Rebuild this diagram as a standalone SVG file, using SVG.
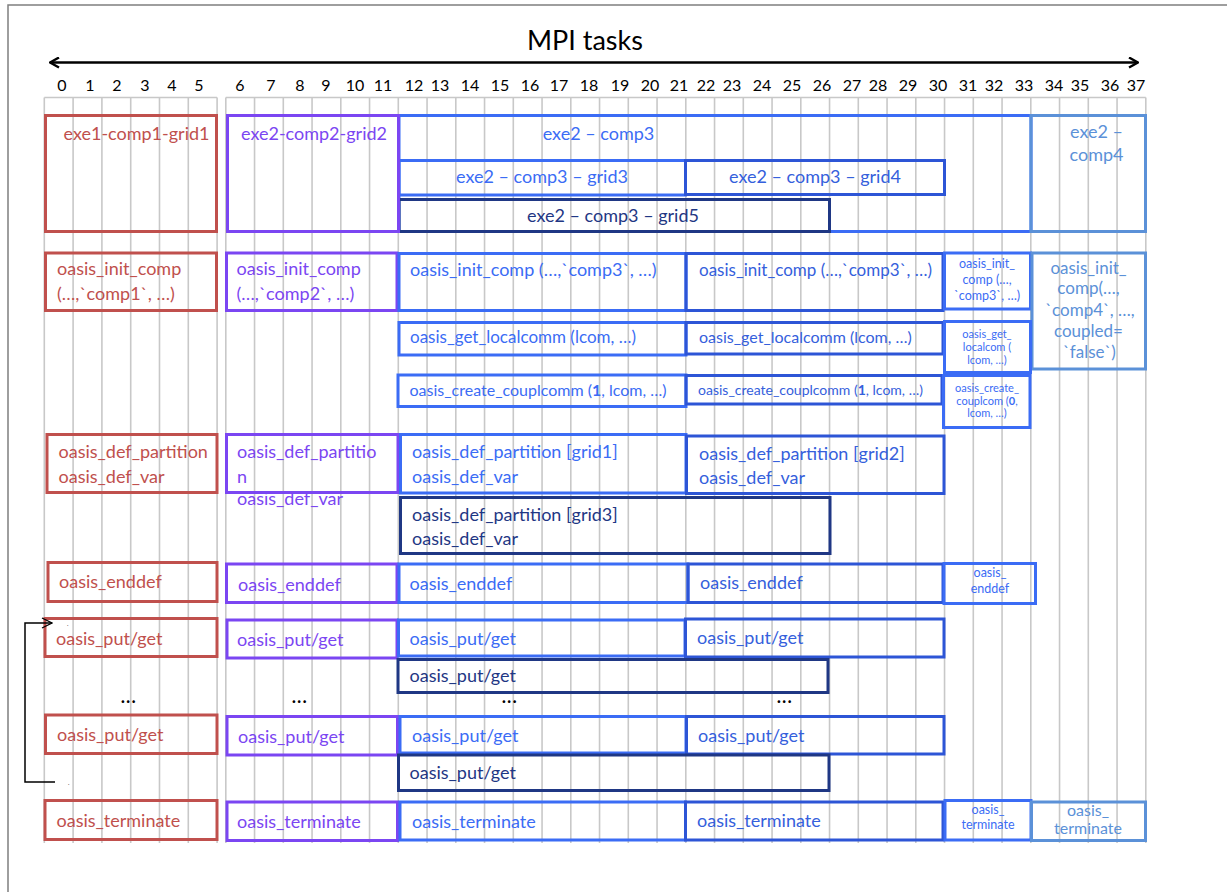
<svg xmlns="http://www.w3.org/2000/svg" width="1227" height="892" viewBox="0 0 1227 892">
<style>
text{font-family:Lato,"Liberation Sans",sans-serif;}
.b{fill:none;stroke-width:3;}
.red{stroke:#C0504D}.pur{stroke:#7B46F2}.blu{stroke:#3B6CF5}.dbl{stroke:#2D55D6}.nav{stroke:#1F3784}.lbl{stroke:#5B91D8}
.tred{fill:#C0504D}.tpur{fill:#7B46F2}.tblu{fill:#3B6CF5}.tdbl{fill:#3560DC}.tnav{fill:#1F3784}.tlbl{fill:#5B91D8}
.m{font-size:18px}.s17{font-size:17px}.s16{font-size:16px}.s15{font-size:15px}.s14{font-size:14px}.s13{font-size:12.5px}.s11{font-size:11px}
.c{text-anchor:middle}
.grid line{stroke:#C8C8C8;stroke-width:1.6}
.num{font-size:16px;fill:#000;text-anchor:middle}
.dots{font-size:16px;font-weight:900;letter-spacing:1.5px;fill:#000;text-anchor:middle}
</style>
<defs>
<marker id="ah" viewBox="0 0 12 12" refX="11" refY="6" markerWidth="12" markerHeight="12" markerUnits="userSpaceOnUse" orient="auto-start-reverse">
<polyline points="2,1 11,6 2,11" fill="none" stroke="#000" stroke-width="2.4"/>
</marker>
<marker id="ah2" viewBox="0 0 12 12" refX="11" refY="6" markerWidth="12" markerHeight="12" markerUnits="userSpaceOnUse" orient="auto">
<polyline points="1,1 11,6 1,11" fill="none" stroke="#000" stroke-width="1.3"/>
</marker>
</defs>
<rect x="8" y="5" width="1240" height="900" fill="#fff" stroke="#7F7F7F" stroke-width="1.5"/>

<g id="axis">
<text x="585" y="50" font-size="27" fill="#000" text-anchor="middle">MPI tasks</text>
<line x1="50" y1="62.5" x2="1138" y2="62.5" stroke="#000" stroke-width="2.5" marker-start="url(#ah)" marker-end="url(#ah)"/>
<g class="num">
<text x="62" y="91">0</text><text x="90" y="91">1</text><text x="117" y="91">2</text><text x="145" y="91">3</text><text x="172" y="91">4</text><text x="199" y="91">5</text>
<text x="240" y="91">6</text><text x="271" y="91">7</text><text x="300" y="91">8</text><text x="326" y="91">9</text><text x="355" y="91">10</text><text x="383" y="91">11</text>
<text x="414" y="91">12</text><text x="440" y="91">13</text><text x="470" y="91">14</text><text x="500" y="91">15</text><text x="530" y="91">16</text><text x="559" y="91">17</text>
<text x="589" y="91">18</text><text x="620" y="91">19</text><text x="650" y="91">20</text><text x="679" y="91">21</text><text x="706" y="91">22</text><text x="732" y="91">23</text>
<text x="762" y="91">24</text><text x="792" y="91">25</text><text x="822" y="91">26</text><text x="852" y="91">27</text><text x="878" y="91">28</text><text x="908" y="91">29</text>
<text x="938" y="91">30</text><text x="968" y="91">31</text><text x="994" y="91">32</text><text x="1024" y="91">33</text><text x="1054" y="91">34</text><text x="1080" y="91">35</text>
<text x="1110" y="91">36</text><text x="1136" y="91">37</text>
</g>
</g>

<g id="grid" class="grid">
<line x1="44.3" y1="97.5" x2="217.1" y2="97.5"/>
<line x1="44.3" y1="97.5" x2="44.3" y2="843"/><line x1="73.1" y1="97.5" x2="73.1" y2="843"/><line x1="101.9" y1="97.5" x2="101.9" y2="843"/><line x1="130.7" y1="97.5" x2="130.7" y2="843"/><line x1="159.5" y1="97.5" x2="159.5" y2="843"/><line x1="188.3" y1="97.5" x2="188.3" y2="843"/><line x1="217.1" y1="97.5" x2="217.1" y2="843"/>
<line x1="225.8" y1="97.5" x2="1145.8" y2="97.5"/>
<line x1="225.8" y1="97.5" x2="225.8" y2="843"/><line x1="254.55" y1="97.5" x2="254.55" y2="843"/><line x1="283.3" y1="97.5" x2="283.3" y2="843"/><line x1="312.05" y1="97.5" x2="312.05" y2="843"/><line x1="340.8" y1="97.5" x2="340.8" y2="843"/><line x1="369.55" y1="97.5" x2="369.55" y2="843"/><line x1="398.3" y1="97.5" x2="398.3" y2="843"/><line x1="427.05" y1="97.5" x2="427.05" y2="843"/>
<line x1="455.8" y1="97.5" x2="455.8" y2="843"/><line x1="484.55" y1="97.5" x2="484.55" y2="843"/><line x1="513.3" y1="97.5" x2="513.3" y2="843"/><line x1="542.05" y1="97.5" x2="542.05" y2="843"/><line x1="570.8" y1="97.5" x2="570.8" y2="843"/><line x1="599.55" y1="97.5" x2="599.55" y2="843"/><line x1="628.3" y1="97.5" x2="628.3" y2="843"/><line x1="657.05" y1="97.5" x2="657.05" y2="843"/>
<line x1="685.8" y1="97.5" x2="685.8" y2="843"/><line x1="714.55" y1="97.5" x2="714.55" y2="843"/><line x1="743.3" y1="97.5" x2="743.3" y2="843"/><line x1="772.05" y1="97.5" x2="772.05" y2="843"/><line x1="800.8" y1="97.5" x2="800.8" y2="843"/><line x1="829.55" y1="97.5" x2="829.55" y2="843"/><line x1="858.3" y1="97.5" x2="858.3" y2="843"/><line x1="887.05" y1="97.5" x2="887.05" y2="843"/>
<line x1="915.8" y1="97.5" x2="915.8" y2="843"/><line x1="944.55" y1="97.5" x2="944.55" y2="843"/><line x1="973.3" y1="97.5" x2="973.3" y2="843"/><line x1="1002.05" y1="97.5" x2="1002.05" y2="843"/><line x1="1030.8" y1="97.5" x2="1030.8" y2="843"/><line x1="1059.55" y1="97.5" x2="1059.55" y2="843"/><line x1="1088.3" y1="97.5" x2="1088.3" y2="843"/><line x1="1117.05" y1="97.5" x2="1117.05" y2="843"/>
<line x1="1145.8" y1="97.5" x2="1145.8" y2="843"/>
</g>

<!-- Row 1: executables / components / grids -->
<g id="exe2-comp3">
<rect class="b blu" x="399" y="115.5" width="632" height="116"/>
<text class="m tblu c" x="598.5" y="139.5">exe2 – comp3</text>
</g>
<g id="exe2-comp3-grid3">
<rect class="b blu" x="399" y="160.5" width="286.5" height="34.5"/>
<text class="m tblu c" x="542" y="183">exe2 – comp3 – grid3</text>
</g>
<g id="exe2-comp3-grid4">
<rect class="b dbl" x="685.5" y="160.5" width="259" height="34"/>
<text class="m tdbl c" x="815" y="183">exe2 – comp3 – grid4</text>
</g>
<g id="exe2-comp3-grid5">
<rect class="b nav" x="399" y="199.5" width="430.5" height="32"/>
<text class="m tnav c" x="613" y="221.5">exe2 – comp3 – grid5</text>
</g>
<g id="exe2-comp4">
<rect class="b lbl" x="1031" y="115.5" width="114.5" height="116"/>
<text class="m tlbl c" x="1096.5" y="138">exe2 –</text>
<text class="m tlbl c" x="1096.5" y="161">comp4</text>
</g>
<g id="exe1-comp1-grid1">
<rect class="b red" x="45.5" y="115.5" width="171" height="116"/>
<text class="m tred c" x="136.5" y="139.5">exe1-comp1-grid1</text>
</g>
<g id="exe2-comp2-grid2">
<rect class="b pur" x="227.5" y="115.5" width="171" height="116"/>
<text class="m tpur c" x="314" y="139.5">exe2-comp2-grid2</text>
</g>

<!-- Row 2: init_comp -->
<g id="init-comp1">
<rect class="b red" x="45.5" y="253" width="171" height="57.5"/>
<text class="m tred" x="57" y="275">oasis_init_comp</text>
<text class="m tred" x="57" y="300">(…,`comp1`, …)</text>
</g>
<g id="init-comp2">
<rect class="b pur" x="226.5" y="253" width="170.5" height="57.5"/>
<text class="m tpur" x="236.5" y="275">oasis_init_comp</text>
<text class="m tpur" x="236.5" y="300">(…,`comp2`, …)</text>
</g>
<g id="init-comp3-a">
<rect class="b blu" x="399" y="253.5" width="287" height="57"/>
<text class="m tblu" x="410" y="275.5">oasis_init_comp (…,`comp3`, …)</text>
</g>
<g id="init-comp3-b">
<rect class="b dbl" x="686" y="253.5" width="257" height="57"/>
<text class="s17 tdbl" x="699" y="275.5">oasis_init_comp (…,`comp3`, …)</text>
</g>
<g id="init-comp3-c">
<rect class="b blu" x="944.5" y="253" width="86" height="56"/>
<text class="s13 tblu c" x="987" y="268">oasis_init_</text>
<text class="s13 tblu c" x="987" y="284">comp (…,</text>
<text class="s13 tblu c" x="987" y="300">`comp3`, …)</text>
</g>
<g id="init-comp4">
<rect class="b lbl" x="1032" y="253" width="113.5" height="116"/>
<text class="s17 tlbl c" x="1088.5" y="273.5">oasis_init_</text>
<text class="s17 tlbl c" x="1088.5" y="294">comp(…,</text>
<text class="s17 tlbl c" x="1090" y="315.5">`comp4`, …,</text>
<text class="s17 tlbl c" x="1088.5" y="336.5">coupled=</text>
<text class="s17 tlbl c" x="1089.5" y="357.5">`false`)</text>
</g>

<!-- Row 3: get_localcomm -->
<g id="localcomm-a">
<rect class="b blu" x="399" y="322.5" width="287" height="32.5"/>
<text class="s17 tblu" x="410" y="343">oasis_get_localcomm (lcom, …)</text>
</g>
<g id="localcomm-b">
<rect class="b dbl" x="686" y="322.5" width="257" height="31.5"/>
<text class="s16 tdbl" x="699" y="343">oasis_get_localcomm (lcom, …)</text>
</g>
<g id="localcomm-c">
<rect class="b blu" x="944.5" y="321.5" width="86" height="51"/>
<text class="s11 tblu c" x="987" y="338">oasis_get_</text>
<text class="s11 tblu c" x="987" y="351">localcom (</text>
<text class="s11 tblu c" x="987" y="363.5">lcom, …)</text>
</g>

<!-- Row 4: create_couplcomm -->
<g id="couplcomm-a">
<rect class="b blu" x="398" y="375" width="288" height="31.5"/>
<text class="s16 tblu" x="409.5" y="395.5">oasis_create_couplcomm (<tspan font-weight="bold">1</tspan>, lcom, …)</text>
</g>
<g id="couplcomm-b">
<rect class="b dbl" x="686" y="375.5" width="256" height="28.5"/>
<text class="s14 tdbl" x="698" y="394.5">oasis_create_couplcomm (<tspan font-weight="bold">1</tspan>, lcom, …)</text>
</g>
<g id="couplcomm-c">
<rect class="b blu" x="943.5" y="375.5" width="86.5" height="52"/>
<text class="s11 tblu c" x="987" y="392">oasis_create_</text>
<text class="s11 tblu c" x="987" y="405">couplcom (<tspan font-weight="bold">0</tspan>,</text>
<text class="s11 tblu c" x="987" y="417">lcom, …)</text>
</g>

<!-- Row 5: def_partition / def_var -->
<g id="def-comp1">
<rect class="b red" x="47" y="434.5" width="170" height="58"/>
<text class="m tred" x="58.5" y="458">oasis_def_partition</text>
<text class="m tred" x="58.5" y="482.5">oasis_def_var</text>
</g>
<g id="def-comp2">
<rect class="b pur" x="226.5" y="434.5" width="171.5" height="58"/>
<text class="m tpur" x="237" y="458">oasis_def_partitio</text>
<text class="m tpur" x="237" y="482.5">n</text>
<text class="m tpur" x="237" y="505">oasis_def_var</text>
</g>
<g id="def-grid1">
<rect class="b blu" x="400.5" y="434.5" width="285.5" height="58.5"/>
<text class="m tblu" x="412" y="458">oasis_def_partition [grid1]</text>
<text class="m tblu" x="412" y="482.5">oasis_def_var</text>
</g>
<g id="def-grid2">
<rect class="b dbl" x="686.5" y="436" width="257.5" height="57.5"/>
<text class="m tdbl" x="699" y="459.5">oasis_def_partition [grid2]</text>
<text class="m tdbl" x="699" y="483.5">oasis_def_var</text>
</g>
<g id="def-grid3">
<rect class="b nav" x="400.5" y="497.5" width="429.5" height="56"/>
<text class="m tnav" x="412" y="520.5">oasis_def_partition [grid3]</text>
<text class="m tnav" x="412" y="544.5">oasis_def_var</text>
</g>

<!-- Row 6: enddef -->
<g id="enddef-comp1">
<rect class="b red" x="48" y="562.5" width="169" height="39"/>
<text class="m tred" x="59" y="588">oasis_enddef</text>
</g>
<g id="enddef-comp2">
<rect class="b pur" x="226.5" y="564" width="170.5" height="38.5"/>
<text class="m tpur" x="238" y="590.5">oasis_enddef</text>
</g>
<g id="enddef-comp3-a">
<rect class="b blu" x="399" y="564" width="289" height="38.5"/>
<text class="m tblu" x="409.5" y="589.5">oasis_enddef</text>
</g>
<g id="enddef-comp3-b">
<rect class="b dbl" x="688" y="564" width="255" height="38.5"/>
<text class="m tdbl" x="700" y="589">oasis_enddef</text>
</g>
<g id="enddef-comp3-c">
<rect class="b blu" x="944" y="563.5" width="91.5" height="40"/>
<text class="s13 tblu c" x="990" y="577">oasis_</text>
<text class="s13 tblu c" x="990" y="593">enddef</text>
</g>

<!-- Row 7: put/get (first) -->
<g id="putget1-comp1">
<rect class="b red" x="45" y="618.5" width="172" height="38"/>
<text class="m tred" x="56" y="645">oasis_put/get</text>
</g>
<g id="putget1-comp2">
<rect class="b pur" x="227" y="620" width="170" height="38"/>
<text class="m tpur" x="237" y="646">oasis_put/get</text>
</g>
<g id="putget1-grid1">
<rect class="b blu" x="398.5" y="620" width="286.5" height="36"/>
<text class="m tblu" x="409.5" y="645">oasis_put/get</text>
</g>
<g id="putget1-grid2">
<rect class="b dbl" x="685.5" y="619" width="258.5" height="38"/>
<text class="m tdbl" x="697" y="644">oasis_put/get</text>
</g>
<g id="putget1-grid3">
<rect class="b nav" x="398" y="659.5" width="430" height="33"/>
<text class="m tnav" x="409.5" y="682">oasis_put/get</text>
</g>

<g id="ellipses">
<text class="dots" x="129" y="703">...</text>
<text class="dots" x="300" y="703">...</text>
<text class="dots" x="510" y="703">...</text>
<text class="dots" x="785" y="703">...</text>
</g>

<!-- Row 8: put/get (last) -->
<g id="putget2-comp1">
<rect class="b red" x="45.5" y="715" width="171.5" height="38.5"/>
<text class="m tred" x="57" y="741">oasis_put/get</text>
</g>
<g id="putget2-comp2">
<rect class="b pur" x="227" y="716.5" width="170.5" height="38.5"/>
<text class="m tpur" x="238" y="743">oasis_put/get</text>
</g>
<g id="putget2-grid1">
<rect class="b blu" x="400" y="716.5" width="286" height="36.5"/>
<text class="m tblu" x="412" y="742">oasis_put/get</text>
</g>
<g id="putget2-grid2">
<rect class="b dbl" x="686.5" y="716.5" width="257.5" height="37.5"/>
<text class="m tdbl" x="698" y="742">oasis_put/get</text>
</g>
<g id="putget2-grid3">
<rect class="b nav" x="398.5" y="755" width="430.5" height="35.5"/>
<text class="m tnav" x="409.5" y="779">oasis_put/get</text>
</g>

<!-- Row 9: terminate -->
<g id="terminate-comp1">
<rect class="b red" x="45" y="800.5" width="172" height="39"/>
<text class="m tred" x="56.5" y="827">oasis_terminate</text>
</g>
<g id="terminate-comp2">
<rect class="b pur" x="227" y="802" width="170.5" height="38.5"/>
<text class="m tpur" x="237" y="828">oasis_terminate</text>
</g>
<g id="terminate-comp3-a">
<rect class="b blu" x="400" y="802" width="285.5" height="38"/>
<text class="m tblu" x="412" y="828">oasis_terminate</text>
</g>
<g id="terminate-comp3-b">
<rect class="b dbl" x="685.5" y="802" width="257.5" height="38"/>
<text class="m tdbl" x="697" y="827">oasis_terminate</text>
</g>
<g id="terminate-comp3-c">
<rect class="b blu" x="945" y="800.5" width="86" height="39.5"/>
<text class="s13 tblu c" x="988" y="814">oasis_</text>
<text class="s13 tblu c" x="988" y="829">terminate</text>
</g>
<g id="terminate-comp4">
<rect class="b lbl" x="1031.5" y="802" width="114" height="38.5"/>
<text class="s16 tlbl c" x="1088" y="816">oasis_</text>
<text class="s16 tlbl c" x="1088" y="834">terminate</text>
</g>

<g id="connectors">
<polyline points="55,782 25,782 25,623 52,623" fill="none" stroke="#000" stroke-width="1.5" marker-end="url(#ah2)"/>
<text x="67" y="626" font-size="6" fill="#000">.</text>
<text x="68" y="785" font-size="6" fill="#000">.</text>
</g>
</svg>
